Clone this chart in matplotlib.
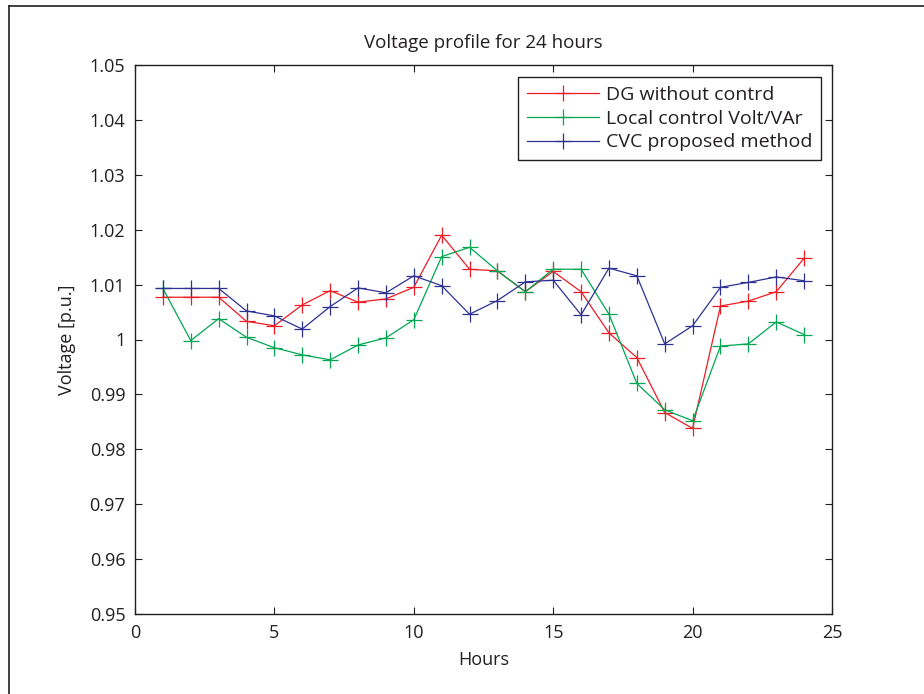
import matplotlib
matplotlib.use("Agg")
import matplotlib.pyplot as plt
from matplotlib.lines import Line2D

plt.rcParams['font.family'] = ['Open Sans', 'DejaVu Sans']

hours = list(range(1, 25))

dg_without_control = [1.0077, 1.0077, 1.0077, 1.0033, 1.0025, 1.0063, 1.0089, 1.0068,
                      1.0074, 1.0095, 1.0190, 1.0128, 1.0125, 1.0087, 1.0124, 1.0087,
                      1.0012, 0.9967, 0.9867, 0.9838, 1.0061, 1.0070, 1.0087, 1.0148]
local_volt_var = [1.0093, 0.9998, 1.0038, 1.0004, 0.9985, 0.9972, 0.9963, 0.9990,
                  1.0003, 1.0036, 1.0151, 1.0168, 1.0125, 1.0087, 1.0128, 1.0128,
                  1.0046, 0.9920, 0.9872, 0.9852, 0.9988, 0.9992, 1.0032, 1.0009]
cvc_proposed = [1.0093, 1.0093, 1.0093, 1.0052, 1.0043, 1.0019, 1.0060, 1.0094,
                1.0085, 1.0116, 1.0098, 1.0046, 1.0071, 1.0105, 1.0108, 1.0045,
                1.0130, 1.0116, 0.9992, 1.0025, 1.0095, 1.0104, 1.0114, 1.0107]

series_labels = ["DG without contrd", "Local control Volt/VAr", "CVC proposed method"]
series_colors = ["#ed1c24", "#00a651", "#2e3192"]

x_ticks = [0, 5, 10, 15, 20, 25]
y_ticks = [0.95, 0.96, 0.97, 0.98, 0.99, 1.0, 1.01, 1.02, 1.03, 1.04, 1.05]
y_tick_labels = ["0.95", "0.96", "0.97", "0.98", "0.99", "1", "1.01", "1.02", "1.03", "1.04", "1.05"]

fig = plt.figure(figsize=(9.24, 6.94), dpi=100)
ax = fig.add_axes([135 / 924, 1 - 614 / 694, (832 - 135) / 924, (614 - 65) / 694])

for values, label, color in zip([dg_without_control, local_volt_var, cvc_proposed],
                                series_labels, series_colors):
    ax.plot(hours, values, color=color, lw=0.9, marker='+', markersize=11,
            markeredgewidth=0.9, label=label)

ax.set_xlim(0, 25)
ax.set_ylim(0.95, 1.05)
ax.set_xticks(x_ticks)
ax.set_xticklabels([str(t) for t in x_ticks])
ax.set_yticks(y_ticks)
ax.set_yticklabels(y_tick_labels)
ax.tick_params(direction='in', length=5, width=0.8, top=True, right=True,
               labelsize=13, colors='#231f20', pad=7)
for s in ax.spines.values():
    s.set_linewidth(1.0)
    s.set_color('#231f20')

ax.set_title("Voltage profile for 24 hours", fontsize=13.5, color='#231f20', pad=12)
ax.set_xlabel("Hours", fontsize=13, color='#231f20', labelpad=7)
ax.set_ylabel("Voltage [p.u.]", fontsize=13, color='#231f20', labelpad=10)

leg = ax.legend(loc='upper right', bbox_to_anchor=(0.984, 0.978), fontsize=14,
                frameon=True, fancybox=False, edgecolor='#231f20', framealpha=1,
                borderpad=0.45, handlelength=3.7, handletextpad=0.35, labelspacing=0.3,
                borderaxespad=0.0)
leg.get_frame().set_linewidth(1.0)
for t in leg.get_texts():
    t.set_color('#231f20')

# page frame along the top and left edges
fig.add_artist(Line2D([9 / 924, 1.0], [1 - 6 / 694, 1 - 6 / 694], color='#231f20', lw=1.2,
                      transform=fig.transFigure))
fig.add_artist(Line2D([9 / 924, 9 / 924], [0.0, 1 - 6 / 694], color='#231f20', lw=1.2,
                      transform=fig.transFigure))

fig.savefig("out.png", dpi=100, facecolor='white')
